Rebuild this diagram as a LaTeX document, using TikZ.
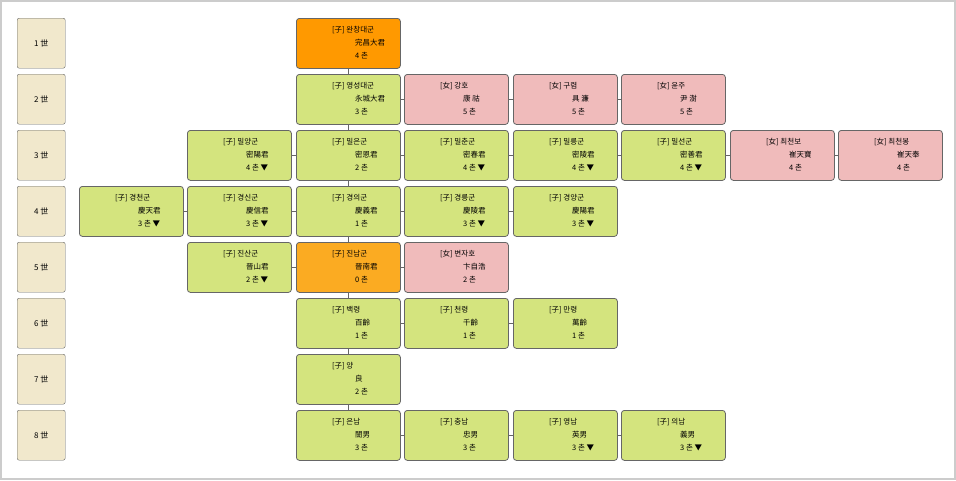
\documentclass[tikz,border=0pt]{standalone}
\usepackage{fontspec}
\setmainfont{Noto Sans CJK KR}
\usetikzlibrary{positioning}
\definecolor{leaf}{HTML}{D4E47E}
\definecolor{rose}{HTML}{F0BBBB}
\definecolor{root}{HTML}{FF9900}
\definecolor{self}{HTML}{FBAB22}
\definecolor{sand}{HTML}{F1E8CC}
\definecolor{rim}{HTML}{666666}
\tikzset{
  genbox/.style={draw=rim, fill=sand, rounded corners=2pt, minimum width=48pt, minimum height=50pt, font=\fontsize{8}{9}\selectfont},
  pbox/.style={draw=rim, fill=#1, thick, rounded corners=3pt, minimum width=104pt, minimum height=50pt, inner sep=0pt},
  ptext/.style={anchor=west, inner sep=0pt, font=\fontsize{7.5}{9}\selectfont},
  link/.style={draw=rim, thick}
}
% \person{name}{x}{row}{fill}{line1}{line2}{line3}
\newcommand\person[7]{%
  \node[pbox=#4, anchor=north west] (#1) at (#2, {-(18+56*(#3-1))}) {};
  \node[ptext] at ([xshift=36pt, yshift=-12pt]#1.north west) {#5};
  \node[ptext] at ([xshift=59pt, yshift=-25pt]#1.north west) {#6};
  \node[ptext] at ([xshift=59pt, yshift=-38pt]#1.north west) {#7};
}
\begin{document}
\begin{tikzpicture}[x=1pt,y=1pt]
  \fill[white] (0,0) rectangle (956,-480);
  \draw[gray!40, line width=2pt] (1,-1) rectangle (955,-479);
  \useasboundingbox (0,0) rectangle (956,-480);

  % generations
  \foreach \g in {1,...,8}
    \node[genbox, anchor=north west] (g\g) at (17, {-(18+56*(\g-1))}) {\g\ 世};

  % row 1
  \person{a}{296}{1}{root}{[子] 완창대군}{完昌大君}{4 촌}
  % row 2
  \person{b}{296}{2}{leaf}{[子] 영성대군}{永城大君}{3 촌}
  \person{b2}{404}{2}{rose}{[女] 강호}{康 祜}{5 촌}
  \person{b3}{513}{2}{rose}{[女] 구렴}{具 濂}{5 촌}
  \person{b4}{621}{2}{rose}{[女] 윤주}{尹 澍}{5 촌}
  % row 3
  \person{c1}{187}{3}{leaf}{[子] 밀양군}{密陽君}{4 촌 ▼}
  \person{c}{296}{3}{leaf}{[子] 밀은군}{密恩君}{2 촌}
  \person{c3}{404}{3}{leaf}{[子] 밀춘군}{密春君}{4 촌 ▼}
  \person{c4}{513}{3}{leaf}{[子] 밀릉군}{密陵君}{4 촌 ▼}
  \person{c5}{621}{3}{leaf}{[子] 밀선군}{密善君}{4 촌 ▼}
  \person{c6}{730}{3}{rose}{[女] 최천보}{崔天寶}{4 촌}
  \person{c7}{838}{3}{rose}{[女] 최천봉}{崔天奉}{4 촌}
  % row 4
  \person{d0}{79}{4}{leaf}{[子] 경천군}{慶天君}{3 촌 ▼}
  \person{d1}{187}{4}{leaf}{[子] 경신군}{慶信君}{3 촌 ▼}
  \person{d}{296}{4}{leaf}{[子] 경의군}{慶義君}{1 촌}
  \person{d3}{404}{4}{leaf}{[子] 경릉군}{慶陵君}{3 촌 ▼}
  \person{d4}{513}{4}{leaf}{[子] 경양군}{慶陽君}{3 촌 ▼}
  % row 5
  \person{e1}{187}{5}{leaf}{[子] 진산군}{晉山君}{2 촌 ▼}
  \person{e}{296}{5}{self}{[子] 진남군}{晉南君}{0 촌}
  \person{e3}{404}{5}{rose}{[女] 변자호}{卞自浩}{2 촌}
  % row 6
  \person{f}{296}{6}{leaf}{[子] 백령}{百齡}{1 촌}
  \person{f3}{404}{6}{leaf}{[子] 천령}{千齡}{1 촌}
  \person{f4}{513}{6}{leaf}{[子] 만령}{萬齡}{1 촌}
  % row 7
  \person{h}{296}{7}{leaf}{[子] 양}{良}{2 촌}
  % row 8
  \person{i}{296}{8}{leaf}{[子] 은남}{誾男}{3 촌}
  \person{i3}{404}{8}{leaf}{[子] 충남}{忠男}{3 촌}
  \person{i4}{513}{8}{leaf}{[子] 영남}{英男}{3 촌 ▼}
  \person{i5}{621}{8}{leaf}{[子] 의남}{義男}{3 촌 ▼}

  % descent
  \foreach \p/\q in {a/b, b/c, c/d, d/e, e/f, f/h, h/i}
    \draw[link] (\p.south) -- (\q.north);
  % siblings
  \foreach \p/\q in {b/b2, b2/b3, b3/b4, c1/c, c/c3, c3/c4, c4/c5, c5/c6, c6/c7,
                     d0/d1, d1/d, d/d3, d3/d4, e1/e, e/e3, f/f3, f3/f4, i/i3, i3/i4, i4/i5}
    \draw[link] (\p.east) -- (\q.west);
\end{tikzpicture}
\end{document}
